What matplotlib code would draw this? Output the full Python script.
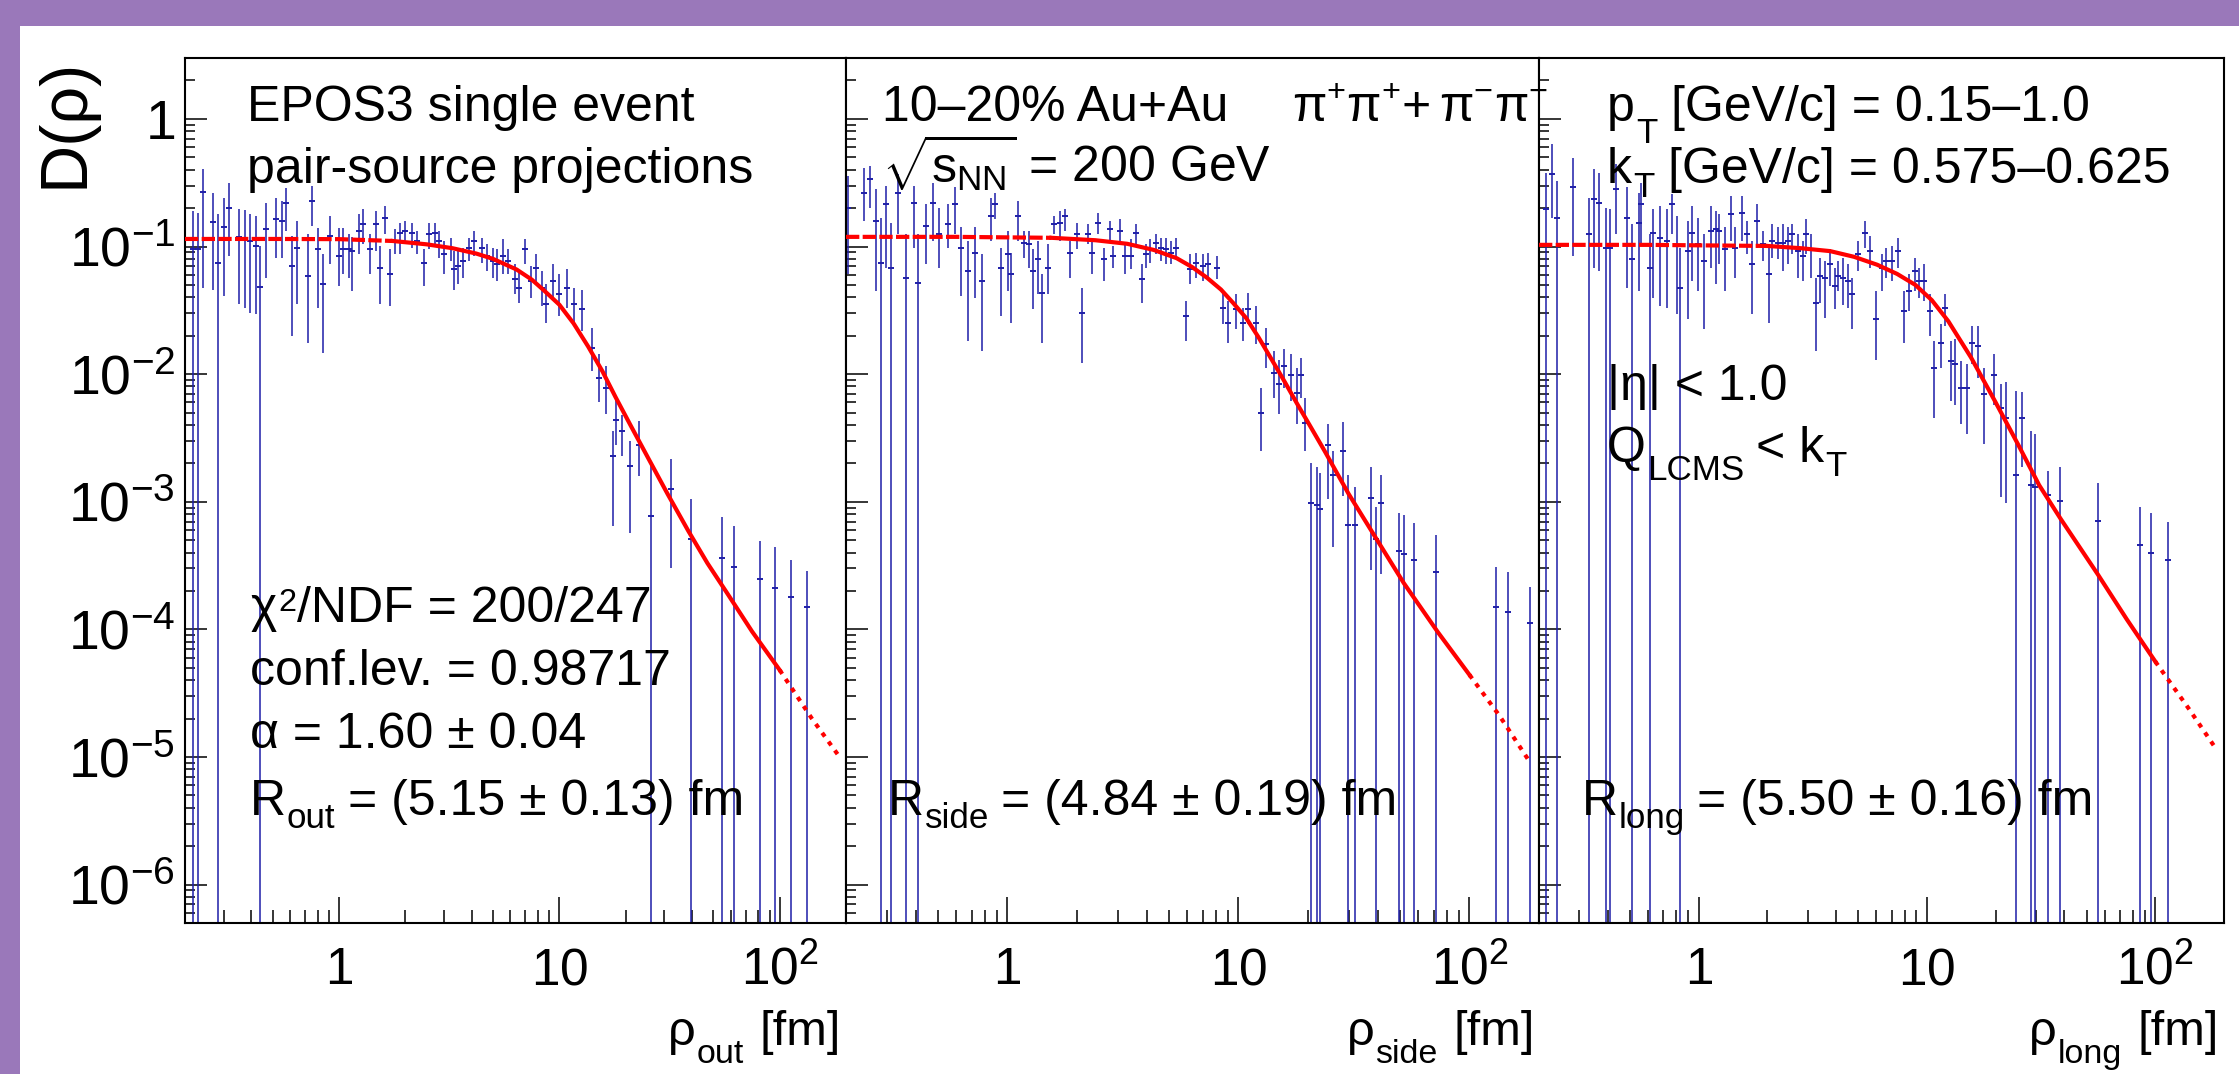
import numpy as np
import matplotlib
matplotlib.use("Agg")
import matplotlib.pyplot as plt
from matplotlib.ticker import LogLocator, NullFormatter
from matplotlib.patches import Rectangle

plt.rcParams['font.family'] = ['Liberation Sans', 'DejaVu Sans']
plt.rcParams['mathtext.fontset'] = 'custom'
plt.rcParams['mathtext.rm'] = 'Liberation Sans'
plt.rcParams['mathtext.it'] = 'Liberation Sans:italic'
plt.rcParams['mathtext.bf'] = 'Liberation Sans:bold'
plt.rcParams['mathtext.default'] = 'regular'

# ---- data: rho [fm], D(rho), lower / upper end of error bar (0 = bar reaches bottom)
rho_out = [0.217, 0.229, 0.241, 0.268, 0.282, 0.300, 0.316, 0.351, 0.374, 0.394, 0.420, 0.438, 0.466,
           0.517, 0.550, 0.574, 0.611, 0.643, 0.721, 0.751, 0.800, 0.844, 0.908, 1.00, 1.04, 1.11, 1.15,
           1.23, 1.28, 1.38, 1.47, 1.53, 1.61, 1.70, 1.79, 1.90, 2.00, 2.14, 2.25, 2.44, 2.55, 2.72, 2.83,
           3.01, 3.21, 3.34, 3.48, 3.67, 3.91, 4.12, 4.44, 4.72, 4.98, 5.19, 5.57, 5.87, 6.32, 6.59, 7.02,
           7.46, 7.87, 8.37, 8.73, 9.40, 10.0, 10.8, 11.6, 12.7, 14.0, 15.2, 16.3, 17.6, 18.1, 19.3, 21.0,
           23.1, 26.1, 32.2, 39.7, 54.8, 62.1, 81.5, 95.3, 112, 133]
d_out = [0.095, 0.095, 0.267, 0.156, 0.074, 0.142, 0.20, 0.119, 0.117, 0.110, 0.101, 0.048, 0.137,
         0.164, 0.159, 0.219, 0.0703, 0.097, 0.0587, 0.227, 0.095, 0.0508, 0.121, 0.084, 0.095, 0.095, 0.092,
         0.132, 0.150, 0.095, 0.150, 0.068, 0.167, 0.061, 0.110, 0.128, 0.132, 0.128, 0.110, 0.074, 0.125, 0.128, 0.110,
         0.087, 0.097, 0.0666, 0.0703, 0.077, 0.097, 0.110, 0.097, 0.084, 0.077, 0.073, 0.084, 0.077, 0.0556, 0.047, 0.095,
         0.0537, 0.068, 0.047, 0.0354, 0.0537, 0.0424, 0.047, 0.0354, 0.0323, 0.016, 0.0093, 0.0078, 0.0023, 0.0044, 0.0036, 0.0019,
         0.0028, 0.00078, 0.00125, 0.00051, 0.00036, 0.00031, 0.00025, 0.00021, 0.000178, 0.000151]
d_out_lo = [0, 0, 0.047, 0.046, 0, 0.041, 0.084, 0.0354, 0.033, 0.030, 0.0296, 0, 0.0566,
            0.081, 0.081, 0.132, 0.0199, 0.0354, 0.0175, 0.145, 0.033, 0.0146, 0.073, 0.049, 0.061, 0.0566, 0.0448,
            0.087, 0.105, 0.061, 0.092, 0.0354, 0.125, 0.0341, 0.087, 0.087, 0.105, 0.097, 0.087, 0.049, 0.095, 0.105, 0.081,
            0.061, 0.077, 0.046, 0.0508, 0.0566, 0.077, 0.084, 0.074, 0.064, 0.0566, 0.0537, 0.061, 0.061, 0.0424, 0.036, 0.073,
            0.0395, 0.0508, 0.0341, 0.025, 0.0395, 0.0285, 0.033, 0.0247, 0.0217, 0.0106, 0.0061, 0.0049, 0.00065, 0.0028, 0.0023, 0.00057,
            0.0016, 0, 0.0003, 0, 0, 0, 0, 0, 0, 0]
d_out_hi = [0.19, 0.183, 0.405, 0.263, 0.18, 0.24, 0.315, 0.197, 0.193, 0.18, 0.174, 0.101, 0.219,
            0.24, 0.227, 0.288, 0.121, 0.159, 0.125, 0.298, 0.14, 0.087, 0.173, 0.14, 0.14, 0.125, 0.118,
            0.18, 0.197, 0.125, 0.19, 0.101, 0.208, 0.095, 0.137, 0.153, 0.159, 0.153, 0.132, 0.095, 0.153, 0.153, 0.132,
            0.110, 0.117, 0.092, 0.095, 0.097, 0.117, 0.132, 0.117, 0.105, 0.097, 0.095, 0.115, 0.095, 0.073, 0.064, 0.115,
            0.0703, 0.087, 0.064, 0.0508, 0.073, 0.061, 0.0666, 0.047, 0.046, 0.023, 0.0144, 0.0116, 0.0036, 0.0065, 0.0048, 0.003,
            0.0043, 0.0021, 0.00215, 0.00105, 0.00076, 0.00065, 0.00049, 0.00044, 0.00035, 0.000285]

rho_side = [0.205, 0.240, 0.255, 0.2685, 0.2825, 0.297, 0.313, 0.337, 0.364, 0.394, 0.41, 0.442, 0.475,
            0.507, 0.553, 0.591, 0.632, 0.672, 0.725, 0.774, 0.845, 0.88, 0.935, 1.01, 1.035, 1.106, 1.176,
            1.237, 1.29, 1.356, 1.405, 1.501, 1.596, 1.696, 1.767, 1.859, 2.007, 2.112, 2.222, 2.314, 2.46,
            2.63, 2.766, 2.867, 3.06, 3.22, 3.43, 3.605, 3.83, 3.99, 4.16, 4.375, 4.60, 4.84, 5.096, 5.36,
            5.94, 6.15, 6.57, 6.99, 7.35, 8.06, 8.57, 9.02, 9.73, 10.5, 11.05, 11.93, 12.55, 13.2, 14.26,
            15.0, 15.8, 16.9, 17.9, 18.7, 19.35, 20.7, 21.8, 22.5, 24.3, 25.6, 28.4, 29.8, 31.9, 37.5,
            39.4, 41.5, 49.6, 52.2, 57.8, 71.9, 130.6, 146.8, 182]
d_side = [0.2015, 0.264, 0.336, 0.158, 0.0746, 0.214, 0.0683, 0.264, 0.057, 0.221, 0.0521, 0.145, 0.221,
          0.125, 0.149, 0.214, 0.098, 0.0643, 0.0895, 0.0537, 0.173, 0.214, 0.0683, 0.0869, 0.0605, 0.173, 0.107,
          0.104, 0.0643, 0.0794, 0.0435, 0.0683, 0.149, 0.154, 0.173, 0.0895, 0.125, 0.0303, 0.125, 0.0895, 0.154,
          0.0794, 0.1363, 0.0843, 0.132, 0.0843, 0.0843, 0.1284, 0.0553, 0.0869, 0.095, 0.107, 0.098, 0.095, 0.0895, 0.098,
          0.0285, 0.0662, 0.0746, 0.0703, 0.0724, 0.0683, 0.0331, 0.0253, 0.0321, 0.0253, 0.0321, 0.0253, 0.00498, 0.0171, 0.0102,
          0.0083, 0.01155, 0.00993, 0.00714, 0.00993, 0.00415, 0.00098, 0.00094, 0.00088, 0.0028, 0.00162, 0.0025, 0.00066, 0.00066, 0.00107,
          0.00051, 0.00098, 0.00041, 0.00039, 0.00035, 0.00028, 0.000151, 0.000136, 0.000112]
d_side_lo = [0.0605, 0.158, 0.2015, 0.0448, 0, 0.0683, 0, 0.125, 0, 0.098, 0, 0.0724, 0.110,
             0.0683, 0.098, 0.125, 0.0409, 0.0182, 0.0398, 0.0151, 0.110, 0.163, 0.0285, 0.0448, 0.0253, 0.110, 0.0817,
             0.0683, 0.0321, 0.0422, 0.0176, 0.0422, 0.125, 0.110, 0.132, 0.057, 0.095, 0.0123, 0.104, 0.0605, 0.125,
             0.0537, 0.110, 0.0683, 0.104, 0.0605, 0.0662, 0.104, 0.0363, 0.0683, 0.0746, 0.0869, 0.0769, 0.0724, 0.0724, 0.0794,
             0.0182, 0.0505, 0.057, 0.0537, 0.057, 0.0553, 0.0245, 0.0176, 0.0225, 0.0182, 0.0245, 0.0171, 0.00249, 0.0112, 0.00652,
             0.00483, 0.00782, 0.00614, 0.00403, 0.00652, 0.00249, 0, 0, 0, 0.00105, 0.000443, 0.0011, 0, 0, 0.00029,
             0, 0.00027, 0, 0, 0, 0, 0, 0, 0]
d_side_hi = [0.357, 0.415, 0.428, 0.281, 0.168, 0.299, 0.154, 0.368, 0.125, 0.299, 0.125, 0.214, 0.317,
             0.2015, 0.214, 0.29, 0.141, 0.110, 0.141, 0.0869, 0.241, 0.264, 0.098, 0.132, 0.0895, 0.2275, 0.132,
             0.132, 0.095, 0.110, 0.0605, 0.104, 0.173, 0.19, 0.196, 0.110, 0.154, 0.0475, 0.149, 0.110, 0.184,
             0.098, 0.158, 0.101, 0.163, 0.104, 0.1138, 0.149, 0.0724, 0.104, 0.1138, 0.125, 0.117, 0.117, 0.110, 0.117,
             0.0374, 0.0869, 0.0895, 0.0869, 0.0895, 0.0843, 0.0448, 0.0374, 0.0422, 0.0331, 0.0435, 0.0341, 0.00782, 0.0231, 0.0151,
             0.013, 0.0156, 0.01425, 0.0112, 0.0134, 0.00652, 0.002, 0.00187, 0.00167, 0.00403, 0.00249, 0.0042, 0.00162, 0.0013, 0.00187,
             0.00091, 0.00162, 0.00082, 0.00079, 0.00068, 0.00055, 0.00031, 0.00028, 0.000216]

rho_long = [0.214, 0.2276, 0.241, 0.282, 0.330, 0.349, 0.366, 0.393, 0.408, 0.4365, 0.487, 0.511, 0.548,
            0.5616, 0.6115, 0.6324, 0.679, 0.729, 0.765, 0.802, 0.833, 0.895, 0.938, 0.993, 1.057, 1.135, 1.19,
            1.23, 1.309, 1.386, 1.439, 1.545, 1.636, 1.716, 1.80, 1.914, 2.026, 2.105, 2.228, 2.337, 2.474,
            2.57, 2.734, 2.853, 2.965, 3.108, 3.26, 3.418, 3.584, 3.758, 3.94, 4.09, 4.295, 4.50, 4.72, 5.00,
            5.37, 5.63, 5.99, 6.34, 6.65, 7.04, 7.48, 7.93, 8.35, 8.84, 9.27, 9.72, 10.3, 10.7, 11.48,
            12.04, 12.81, 13.24, 14.09, 14.92, 15.79, 16.79, 17.87, 19.65, 21.0, 22.3, 24.5, 26.1, 28.7, 29.7,
            33.9, 38.2, 55.9, 85.7, 96.1, 113.5]
d_long = [0.1956, 0.368, 0.168, 0.29, 0.1247, 0.234, 0.221, 0.098, 0.098, 0.281, 0.168, 0.0794, 0.154,
          0.214, 0.0683, 0.1284, 0.117, 0.110, 0.214, 0.101, 0.0475, 0.0923, 0.1284, 0.104, 0.0769, 0.132, 0.1363,
          0.132, 0.095, 0.1785, 0.098, 0.184, 0.1247, 0.0724, 0.158, 0.104, 0.0605, 0.110, 0.107, 0.107, 0.110,
          0.1247, 0.0923, 0.0843, 0.1247, 0.095, 0.0363, 0.0588, 0.057, 0.0724, 0.049, 0.0588, 0.057, 0.0537, 0.0422, 0.0869,
          0.1284, 0.0923, 0.0269, 0.0683, 0.0769, 0.0769, 0.0923, 0.0312, 0.0448, 0.0643, 0.0537, 0.0537, 0.0312, 0.0112, 0.0176,
          0.0331, 0.01265, 0.0119, 0.00782, 0.00782, 0.0176, 0.0166, 0.00693, 0.00993, 0.00545, 0.00455, 0.00162, 0.00455, 0.00135, 0.0013,
          0.00113, 0.00101, 0.00071, 0.00046, 0.0004, 0.00035]
d_long_lo = [0, 0.168, 0, 0.0843, 0, 0.0683, 0.0643, 0, 0, 0.1247, 0.0475, 0, 0.0448,
             0.104, 0, 0.0398, 0.0341, 0.0331, 0.1247, 0.0294, 0, 0.0269, 0.0537, 0.0448, 0.0225, 0.0683, 0.0505,
             0.0724, 0.0448, 0.110, 0.057, 0.110, 0.0869, 0.0294, 0.098, 0.0769, 0.0253, 0.0817, 0.0794, 0.0643, 0.0724,
             0.0869, 0.057, 0.0537, 0.0869, 0.057, 0.0151, 0.0363, 0.0277, 0.049, 0.0321, 0.0448, 0.0351, 0.0331, 0.0225, 0.0643,
             0.098, 0.0683, 0.013, 0.0448, 0.057, 0.0537, 0.0683, 0.0176, 0.0312, 0.0448, 0.0398, 0.0374, 0.0199, 0.00455, 0.0112,
             0.0238, 0.00614, 0.00578, 0.00403, 0.00337, 0.0119, 0.00935, 0.00281, 0.00578, 0.00109, 0.00098, 0, 0.00186, 0, 0,
             0, 0, 0, 0, 0, 0]
d_long_hi = [0.379, 0.631, 0.327, 0.498, 0.241, 0.403, 0.379, 0.2015, 0.196, 0.441, 0.29, 0.149, 0.264,
             0.317, 0.1247, 0.196, 0.2075, 0.196, 0.256, 0.173, 0.098, 0.158, 0.2075, 0.168, 0.1247, 0.2075, 0.19,
             0.1785, 0.141, 0.249, 0.141, 0.249, 0.158, 0.110, 0.214, 0.132, 0.098, 0.149, 0.141, 0.149, 0.141,
             0.149, 0.1247, 0.110, 0.163, 0.1247, 0.057, 0.0817, 0.0769, 0.095, 0.0683, 0.0769, 0.0817, 0.0724, 0.057, 0.110,
             0.158, 0.120, 0.0448, 0.0869, 0.098, 0.101, 0.117, 0.0448, 0.0605, 0.0817, 0.0683, 0.0724, 0.0422, 0.0182, 0.0245,
             0.0422, 0.0182, 0.0187, 0.01265, 0.0119, 0.0238, 0.0238, 0.0112, 0.01425, 0.0083, 0.0087, 0.00736, 0.0072, 0.00357, 0.0034,
             0.00174, 0.00187, 0.0014, 0.00091, 0.00082, 0.00069]

fit_rho_out = [0.2, 0.5, 1.0, 1.75, 2.5, 3.27, 4.2, 5.0, 6.4, 7.5, 8.55, 10, 11.6, 13.5, 15.7, 18, 21,
               25.3, 31, 38.5, 47, 58, 75, 100, 140, 187]
fit_d_out = [0.1146, 0.1146, 0.1142, 0.1105, 0.104, 0.097, 0.088, 0.080, 0.066, 0.055, 0.045, 0.035,
             0.025, 0.0165, 0.0105, 0.0066, 0.0040, 0.0022, 0.00115, 5.9e-4, 3.3e-4, 1.9e-4, 9.6e-5,
             4.8e-5, 2.0e-5, 1.0e-5]
fit_rho_side = [0.2, 0.6, 1.55, 2.4, 3.3, 4.3, 5.4, 6.3, 7.3, 8.4, 9.5, 10.8, 12.2, 14, 15.8, 18, 20.3,
                23.6, 30, 39.6, 52, 73, 100, 135, 182]
fit_d_side = [0.119, 0.119, 0.117, 0.112, 0.105, 0.094, 0.081, 0.069, 0.057, 0.046, 0.036, 0.0275,
              0.0195, 0.0128, 0.0088, 0.0058, 0.0040, 0.0025, 0.00115, 5.1e-4, 2.3e-4, 9.5e-5, 4.4e-5,
              2.1e-5, 9.2e-6]
fit_rho_long = [0.2, 0.6, 2.0, 2.8, 3.77, 4.8, 6.05, 7.4, 8.9, 10.5, 12.4, 15.6, 19.9, 25.1, 31, 38.6,
                56, 75, 100, 140, 185]
fit_d_long = [0.103, 0.103, 0.101, 0.097, 0.092, 0.083, 0.072, 0.061, 0.050, 0.038, 0.026, 0.0135,
              0.0061, 0.0028, 0.00135, 7.3e-4, 2.7e-4, 1.2e-4, 5.6e-5, 2.4e-5, 1.15e-5]
fit_range = {'out': (1.75, 100), 'side': (1.55, 100), 'long': (2.0, 100)}

y_ticks = [1e-6, 1e-5, 1e-4, 1e-3, 1e-2, 1e-1, 1]
y_tick_labels = ['$10^{-6}$', '$10^{-5}$', '$10^{-4}$', '$10^{-3}$', '$10^{-2}$', '$10^{-1}$', '$1$']
x_ticks = [1, 10, 100]
x_tick_labels = ['$1$', '$10$', '$10^{2}$']

BLUE = '#1e1ea8'
PURPLE = '#9a78ba'
W, H = 2239, 1074

fig = plt.figure(figsize=(W / 100, H / 100), dpi=100)
fig.patch.set_facecolor('white')
fig.patches.append(Rectangle((0, 1 - 26 / H), 1, 26 / H, transform=fig.transFigure,
                             facecolor=PURPLE, edgecolor='none', zorder=-5))
fig.patches.append(Rectangle((0, 0), 20 / W, 1, transform=fig.transFigure,
                             facecolor=PURPLE, edgecolor='none', zorder=-5))

top, bottom = 58, 923
frames = [(185, 846), (846, 1539), (1539, 2224)]
panels = [
    ('out', rho_out, d_out, d_out_lo, d_out_hi, fit_rho_out, fit_d_out),
    ('side', rho_side, d_side, d_side_lo, d_side_hi, fit_rho_side, fit_d_side),
    ('long', rho_long, d_long, d_long_lo, d_long_hi, fit_rho_long, fit_d_long),
]

for i, ((x0, x1), (name, r, d, dlo, dhi, fr, fd)) in enumerate(zip(frames, panels)):
    ax = fig.add_axes([x0 / W, 1 - bottom / H, (x1 - x0) / W, (bottom - top) / H])
    ax.set_xscale('log')
    ax.set_yscale('log')
    ax.set_xlim(0.2, 200)
    ax.set_ylim(5e-7, 3)

    r = np.array(r); d = np.array(d)
    lo = np.array(dlo); hi = np.array(dhi)
    lo = np.where(lo > 0, lo, 1e-12)
    ax.vlines(r, lo, hi, color=BLUE, lw=1.1, zorder=2)
    ax.plot(r, d, ls='none', marker='_', ms=5, mew=1.4, color=BLUE, zorder=2)

    fr = np.array(fr); fd = np.array(fd)
    a, b = fit_range[name]
    left = fr <= a
    mid = (fr >= a) & (fr <= b)
    right = fr >= b
    ax.plot(fr[left], fd[left], color='red', lw=3, dashes=(3.2, 0.8), zorder=3)
    ax.plot(fr[mid], fd[mid], color='red', lw=3, zorder=3)
    ax.plot(fr[right], fd[right], color='red', lw=3, dashes=(1.1, 1.5), zorder=3)

    ax.set_yticks(y_ticks, y_tick_labels)
    ax.yaxis.set_minor_locator(LogLocator(base=10, subs=np.arange(2, 10), numticks=30))
    ax.yaxis.set_minor_formatter(NullFormatter())
    ax.set_xticks(x_ticks, x_tick_labels, va='baseline')
    ax.xaxis.set_minor_locator(LogLocator(base=10, subs=np.arange(2, 10), numticks=30))
    ax.xaxis.set_minor_formatter(NullFormatter())

    ax.tick_params(which='both', direction='in', top=False, right=False, width=1.1)
    ax.tick_params(axis='y', which='major', length=15.8, labelsize=40, pad=7)
    ax.tick_params(axis='y', which='minor', length=7.5)
    ax.tick_params(axis='x', which='major', length=19, labelsize=37, pad=44)
    ax.tick_params(axis='x', which='minor', length=9.5)
    if i > 0:
        ax.tick_params(axis='y', labelleft=False)
    for s in ax.spines.values():
        s.set_linewidth(1.5)

renderer = fig.canvas.get_renderer()


def put(x, y, s, size=36, **kw):
    return fig.text(x / W, 1 - y / H, s, va='baseline', fontsize=size, **kw)


def rich(x, y, parts, size=36, right=False):
    # ROOT-like latex: pieces are (text, shift down in px, scale, gap before in px)
    pieces = []
    cx = x
    for s, dy, sc, gap in parts:
        cx += gap
        t = put(cx, y + dy, s, size=size * sc)
        cx = t.get_window_extent(renderer).x1
        pieces.append(t)
    if right:
        for t in pieces:
            px, py = t.get_position()
            t.set_position((px + (x - cx) / W, py))


put(247, 121, 'EPOS3 single event')
put(247, 183, 'pair-source projections')
rich(250, 622, [('χ', 0, 1, 0), ('2', -11, 0.65, 2), ('/NDF = 200/247', 0, 1, 1)])
put(250, 685, 'conf.lev. = 0.98717')
put(250, 748, 'α = 1.60 ± 0.04')
rich(250, 815, [('R', 0, 1, 0), ('out', 13, 0.7, 1), ('= (5.15 ± 0.13) fm', 0, 1, 12)])

put(882, 121, '10–20% Au+Au')
rich(1292, 121, [('π', 0, 1, 0), ('+', -20, 0.65, 0), ('π', 0, 1, 1), ('+', -20, 0.65, 0),
                 ('+', 0, 1, 2), ('π', 0, 1, 8), ('−', -20, 0.65, 0), ('π', 0, 1, 1),
                 ('−', -20, 0.65, 0)])
put(882, 183, r'$\sqrt{s_{NN}}$ = 200 GeV')
rich(888, 815, [('R', 0, 1, 0), ('side', 13, 0.7, 1), ('= (4.84 ± 0.19) fm', 0, 1, 12)])

rich(1607, 121, [('p', 0, 1, 0), ('T', 22, 0.7, 1), ('[GeV/c] = 0.15–1.0', 0, 1, 14)])
rich(1607, 183, [('k', 0, 1, 0), ('T', 14, 0.7, 1), ('[GeV/c] = 0.575–0.625', 0, 1, 14)])
put(1607, 400, '|η| < 1.0')
rich(1607, 462, [('Q', 0, 1, 0), ('LCMS', 18, 0.7, 1), ('< k', 0, 1, 12), ('T', 14, 0.7, 1)])
rich(1582, 815, [('R', 0, 1, 0), ('long', 13, 0.7, 1), ('= (5.50 ± 0.16) fm', 0, 1, 12)])

for xr, sub in [(841, 'out'), (1535, 'side'), (2219, 'long')]:
    rich(xr, 1045, [('ρ', 0, 1, 0), (sub, 18, 0.7, 1), ('[fm]', 0, 1, 16)], size=35, right=True)
fig.text(65 / W, 1 - 58 / H, 'D(ρ)', rotation=90, ha='center', va='top', fontsize=48)

fig.savefig('out.png', dpi=100, facecolor=fig.get_facecolor())
